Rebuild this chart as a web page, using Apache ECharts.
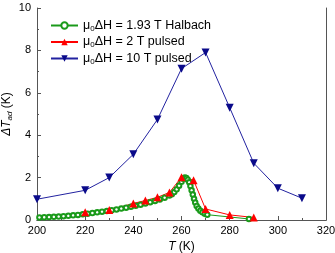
<!DOCTYPE html>
<html><head><meta charset="utf-8">
<script src="https://cdn.jsdelivr.net/npm/echarts@6/dist/echarts.min.js"></script>
<style>html,body{margin:0;padding:0;background:#fff}#c{width:335px;height:253px}</style>
</head><body><div id="c"></div>
<script>
var halbachT = [201,203,205,207,209,211,213,215,217,219,221,223,225,227,229,231,233,235,237,239,241,243,245,247,249,251,253,255,256,257,258,259,260,260.7,261.4,262,262.6,263.2,263.7,264.2,264.7,265.2,265.7,266.3,267,267.8,268.7,269.7,270.7,288];
var halbachV = [0.12,0.13,0.14,0.15,0.16,0.18,0.2,0.22,0.24,0.27,0.3,0.33,0.36,0.39,0.42,0.46,0.5,0.54,0.58,0.62,0.67,0.72,0.78,0.84,0.9,0.97,1.05,1.15,1.22,1.32,1.45,1.62,1.8,1.95,2.0,1.98,1.9,1.78,1.6,1.4,1.2,1.0,0.82,0.66,0.54,0.44,0.36,0.3,0.25,0.05];
var pulsed2T = [220,230,240,245,250,255,260,265,270,280,290];
var pulsed2V = [0.37,0.47,0.78,0.92,1.07,1.3,2.02,1.88,0.52,0.24,0.12];
var pulsed10T = [200,220,230,240,250,260,270,280,290,300,310];
var pulsed10V = [0.98,1.4,2.0,3.1,4.74,7.14,7.9,5.3,2.68,1.5,1.03];
var names = ['μ{s|0}ΔH = 1.93 T Halbach','μ{s|0}ΔH = 2 T pulsed','μ{s|0}ΔH = 10 T pulsed'];
var xTicks = {min:200,max:320,interval:20};
var yTicks = {min:0,max:10,interval:2};

function pairs(a,b){return a.map(function(v,i){return [v,b[i]];});}
var font = 'Liberation Sans, Arial, sans-serif';
var axisColor = '#555';
var chart = echarts.init(document.getElementById('c'));
chart.setOption({
  animation:false,
  grid:{left:37,right:9,top:8,bottom:33,containLabel:false,outerBoundsMode:'none'},
  legend:{
    left:45, top:14, orient:'vertical', itemWidth:27, itemHeight:8, itemGap:3,
    data:names,
    textStyle:{fontFamily:font,fontSize:12.5,color:'#000',
      rich:{s:{fontSize:8,padding:[6,0,0,0],fontFamily:font}}}
  },
  xAxis:[{type:'value',min:xTicks.min,max:xTicks.max,interval:xTicks.interval,
    name:'{i|T} (K)',nameLocation:'middle',nameGap:21,nameMoveOverlap:false,
    nameTextStyle:{fontFamily:font,fontSize:12,color:'#000',rich:{i:{fontStyle:'italic',fontSize:12,fontFamily:font}}},
    axisLine:{lineStyle:{color:axisColor}},
    axisTick:{inside:true,length:4,lineStyle:{color:axisColor}},
    minorTick:{show:true,splitNumber:2,length:2,lineStyle:{color:axisColor}},
    axisLabel:{fontFamily:font,fontSize:11,color:'#000',margin:5},
    splitLine:{show:false}},
   {type:'value',position:'top',min:xTicks.min,max:xTicks.max,interval:xTicks.interval,
    axisLine:{show:true,lineStyle:{color:axisColor}},axisTick:{show:false},axisLabel:{show:false},splitLine:{show:false}}],
  yAxis:[{type:'value',min:yTicks.min,max:yTicks.max,interval:yTicks.interval,
    name:'{i|ΔT}{s|ad} (K)',nameLocation:'middle',nameGap:23,nameMoveOverlap:false,
    nameTextStyle:{fontFamily:font,fontSize:12,color:'#000',
      rich:{i:{fontStyle:'italic',fontSize:12,fontFamily:font},s:{fontStyle:'italic',fontSize:8,fontFamily:font,padding:[6,0,0,0]}}},
    axisLine:{show:true,lineStyle:{color:axisColor}},
    axisTick:{show:true,inside:true,length:4,lineStyle:{color:axisColor}},
    minorTick:{show:true,splitNumber:2,length:2,lineStyle:{color:axisColor}},
    axisLabel:{fontFamily:font,fontSize:11,color:'#000',margin:6},
    splitLine:{show:false}},
   {type:'value',position:'right',min:yTicks.min,max:yTicks.max,interval:yTicks.interval,
    axisLine:{show:true,lineStyle:{color:axisColor}},axisTick:{show:false},axisLabel:{show:false},splitLine:{show:false}}],
  series:[
    {name:names[0],type:'line',data:pairs(halbachT,halbachV),symbol:'emptyCircle',symbolSize:4.5,showAllSymbol:true,
     lineStyle:{width:1,color:'#1a9a1a'},itemStyle:{color:'#1a9a1a',borderWidth:1}},
    {name:names[1],type:'line',data:pairs(pulsed2T,pulsed2V),symbol:'triangle',symbolSize:8,
     lineStyle:{width:1,color:'#ff0000'},itemStyle:{color:'#ff0000'}},
    {name:names[2],type:'line',data:pairs(pulsed10T,pulsed10V),symbol:'triangle',symbolRotate:180,symbolSize:8,
     lineStyle:{width:1,color:'#2222a0'},itemStyle:{color:'#0a0a8a'}}
  ]
});
</script></body></html>
